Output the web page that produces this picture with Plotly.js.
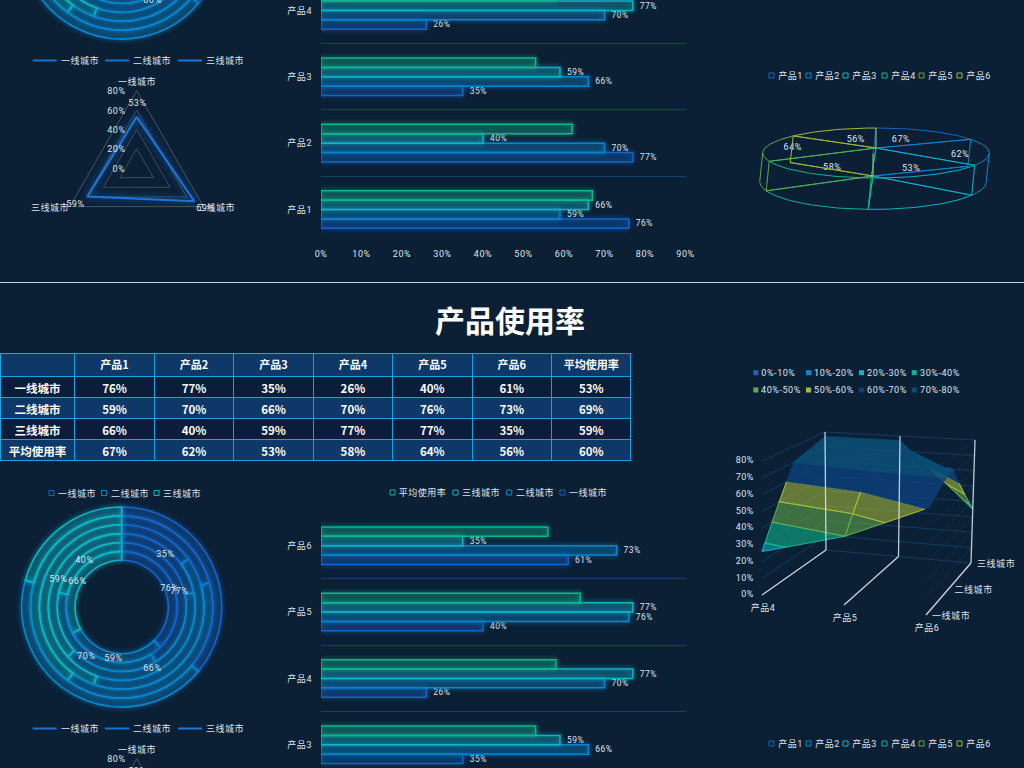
<!DOCTYPE html>
<html><head><meta charset="utf-8">
<script src="https://cdn.plot.ly/plotly-3.0.1.min.js"></script>
<style>
html,body{margin:0;padding:0;background:#0b1f35;overflow:hidden;width:1024px;height:768px}
#stage{position:fixed;left:0;top:0;width:1024px;height:768px;overflow:hidden;background:#0b1f35}
.sec{position:absolute;left:0;width:1024px;height:669px}
.sec text{letter-spacing:.55px}
.sec .table text,.sec .gtitle{letter-spacing:0}
</style></head><body>
<div id="stage"><div id="secA" class="sec" style="top:-386px"></div><div id="secB" class="sec" style="top:282px"></div></div>
<script>
const titleText = '产品使用率';
const products = ['产品1','产品2','产品3','产品4','产品5','产品6'];
const cities = ['一线城市','二线城市','三线城市'];
const avgName = '平均使用率';
const tier1 = [76,77,35,26,40,61];
const tier2 = [59,70,66,70,76,73];
const tier3 = [66,40,59,77,77,35];
const avgByProduct = [67,62,53,58,64,56];
const avgByCity = [53,69,59];
const avgAll = 60;
const radarTicks = [0,20,40,60,80];
const bandNames = ['0%-10%','10%-20%','20%-30%','30%-40%','40%-50%','50%-60%','60%-70%','70%-80%'];
const surfaceProducts = ['产品4','产品5','产品6'];
const surfaceZ = [[26,40,61],[70,76,73],[77,77,35]];

const cityColors = ['#1565c4','#0b86cc','#10b4c4'];
const avgColor = '#12b58c';
const sliceColors = ['#1565c4','#0b86cc','#10b4c4','#12b58c','#62a84a','#a5b838'];
const bandColors = ['#1565c4','#0b86cc','#10b4c4','#12b58c','#62a84a','#a5b838','#0d3f78','#0c4f78'];
const FONT = 'Roboto,"Noto Sans CJK SC",sans-serif';
const TXT = '#dfe6ee';
const W = 1024, H = 669;
const px = x => x / W, py = y => 1 - y / H;
function rgba(hex,a){const n=parseInt(hex.slice(1),16);return `rgba(${n>>16},${(n>>8)&255},${n&255},${a})`;}
const note=(x,y,text,xanchor='center')=>({xref:'paper',yref:'paper',x:px(x),y:py(y),xanchor,yanchor:'middle',showarrow:false,text,font:{size:9,color:TXT,family:FONT}});

function legendRow(items, y, kind, ann, shp){
  items.forEach(it=>{
    if(kind==='line'){
      shp.push({type:'line',xref:'paper',yref:'paper',x0:px(it.x),x1:px(it.x+24),y0:py(y),y1:py(y),line:{color:it.color,width:2}});
    }else{
      shp.push({type:'rect',xref:'paper',yref:'paper',x0:px(it.x),x1:px(it.x+5),y0:py(y-2.5),y1:py(y+2.5),
        line:{color:it.color,width:kind==='fill'?0:1},fillcolor:kind==='fill'?it.color:'rgba(0,0,0,0)'});
    }
    ann.push(note(it.x+(kind==='line'?27:8),y,it.name,'left'));
  });
}

// trilinear projection of the 3-D surface box (u,v,w in 0..1) onto the flat axis pair
const box={p000:[762,313],p100:[926,333],p010:[826,268],p110:[971,281],p001:[762,179],p101:[930,192],p011:[825,150],p111:[975,158]};
function proj(u,v,w){
  const m=(a,b,t)=>[a[0]+(b[0]-a[0])*t,a[1]+(b[1]-a[1])*t];
  const f0=m(box.p000,box.p100,u), b0=m(box.p010,box.p110,u), f1=m(box.p001,box.p101,u), b1=m(box.p011,box.p111,u);
  return m(m(f0,b0,v),m(f1,b1,v),w);
}
function clip(poly,level,keepAbove){
  const out=[];
  poly.forEach((p,i)=>{
    const q=poly[(i+1)%poly.length];
    const pin=keepAbove?p.z>=level:p.z<=level, qin=keepAbove?q.z>=level:q.z<=level;
    if(pin) out.push(p);
    if(pin!==qin){const t=(level-p.z)/(q.z-p.z);out.push({u:p.u+(q.u-p.u)*t,v:p.v+(q.v-p.v)*t,z:level});}
  });
  return out;
}
function surfaceTraces(){
  const T=[], ax={xaxis:'x4',yaxis:'y4',showlegend:false,hoverinfo:'skip',cliponaxis:false};
  const seg=(a,b,color,width)=>{const A=proj(...a),B=proj(...b);T.push({...ax,type:'scatter',mode:'lines',x:[A[0],B[0]],y:[A[1],B[1]],line:{color,width}});};
  for(let z=0;z<=80;z+=10){
    seg([0,1,z/80],[1,1,z/80],'#143c64',1);
    seg([0,0,z/80],[0,1,z/80],'#143c64',1);
    seg([1,0,z/80],[1,1,z/80],'#102f50',1);
  }
  for(let j=1;j>=0;j--) for(let i=0;i<2;i++){
    const cell=[{u:i/2,v:j/2,z:surfaceZ[j][i]},{u:(i+1)/2,v:j/2,z:surfaceZ[j][i+1]},{u:(i+1)/2,v:(j+1)/2,z:surfaceZ[j+1][i+1]},{u:i/2,v:(j+1)/2,z:surfaceZ[j+1][i]}];
    bandColors.forEach((c,k)=>{
      let poly=clip(cell,k*10,true); if(poly.length) poly=clip(poly,(k+1)*10,false);
      if(poly.length<3) return;
      const pts=poly.map(p=>proj(p.u,p.v,p.z/80)); pts.push(pts[0]);
      T.push({...ax,type:'scatter',mode:'lines',x:pts.map(p=>p[0]),y:pts.map(p=>p[1]),fill:'toself',
        fillcolor:rgba(c,k>=6?0.86:0.58),line:{color:k>=6?rgba(c,0.9):c,width:k>=6?0.6:1.1}});
    });
  }
  [0,1,2].forEach(i=>{
    seg([i/2,0,0],[i/2,1,0],'rgba(225,232,240,0.9)',1.3);
    seg([i/2,1,0],[i/2,1,1],'rgba(225,232,240,0.85)',1.3);
  });
  const label=(xs,ys,text,pos)=>T.push({...ax,type:'scatter',mode:'text',x:xs,y:ys,text,textposition:pos,textfont:{size:9,color:TXT,family:FONT}});
  const zs=[0,10,20,30,40,50,60,70,80];
  const zp=zs.map(z=>proj(0,0,z/80));
  label(zp.map(p=>p[0]-8),zp.map(p=>p[1]),zs.map(z=>z+'%'),'middle left');
  const xp=surfaceProducts.map((p,i)=>proj(i/2,0,0));
  label(xp.map(p=>p[0]+1),xp.map(p=>p[1]+14),surfaceProducts,'middle center');
  const yp=cities.map((c,j)=>proj(1,j/2,0));
  label(yp.map(p=>p[0]+6),yp.map((p,j)=>p[1]+2),cities,'middle right');
  return T;
}

function section(full){
  const traces=[], ann=[], shp=[];

  // ---- grouped outlined bars
  const barSeries=[[cities[0],tier1,cityColors[0],true],[cities[1],tier2,cityColors[1],true],[cities[2],tier3,cityColors[2],true],[avgName,avgByProduct,avgColor,false]];
  barSeries.forEach(([name,vals,col,lab])=>{
    traces.push({type:'bar',orientation:'h',name,y:products,x:vals,xaxis:'x',yaxis:'y',showlegend:false,hoverinfo:'skip',
      marker:{color:rgba(col,0.16),line:{color:col,width:1.5}},
      text:lab?vals.map(v=>'\u00a0\u00a0'+v+'%'):undefined,textposition:lab?'outside':'none',cliponaxis:false,
      textfont:{size:9,color:TXT,family:FONT}});
  });

  // ---- concentric doughnut: one ring per product, one slice per city
  const cx=121.7, cy=325, R=100, r0=46.7, rw=(R-r0)/6;
  products.forEach((p,k)=>{
    const vals=[tier1[k],tier2[k],tier3[k]];
    const outer=r0+rw*(k+1), inner=r0+rw*k;
    traces.push({type:'pie',name:p,labels:cities,values:vals,sort:false,direction:'clockwise',rotation:0,
      hole:inner/outer,textinfo:'none',hoverinfo:'skip',showlegend:false,
      domain:{x:[px(cx-outer),px(cx+outer)],y:[py(cy+outer),py(cy-outer)]},
      marker:{colors:cityColors.map(c=>rgba(c,0.16)),line:{color:cityColors,width:1.6}}});
    if(k<3){
      const tot=vals[0]+vals[1]+vals[2]; let acc=0;
      vals.forEach(v=>{
        const t=(acc+v/2)/tot*2*Math.PI; acc+=v;
        const rr=(inner+outer)/2;
        ann.push(note(cx+rr*Math.sin(t),cy-rr*Math.cos(t),v+'%'));
      });
    }
  });

  // ---- radar of the city averages; one edge per city
  cities.forEach((c,i)=>{
    const j=(i+1)%3;
    traces.push({type:'scatterpolar',subplot:'polar',mode:'lines',name:c,theta:[c,cities[j]],r:[avgByCity[i],avgByCity[j]],
      line:{color:'#1a78dc',width:2},showlegend:false,hoverinfo:'skip',cliponaxis:false});
  });
  [[136.7,467,cities[0]],[216,593,cities[1]],[50,593,cities[2]],[137,489,avgByCity[0]+'%'],[205,594,avgByCity[1]+'%'],[75,590,avgByCity[2]+'%']]
    .forEach(([x,y,text])=>ann.push(note(x,y,text)));
  radarTicks.forEach(v=>ann.push(note(126.5,554.5-v/80*77.2,v+'%','right')));

  // ---- wireframe 3-D pie: perspective disc drawn on a flat axis pair
  const hubT=[876,534], hubB=[873,562], Rx=111, aT=24, aB=26.7, persp=0.2;
  const rim=(h,a,t)=>{const d=1+persp*Math.cos(t);return [h[0]+Rx*Math.sin(t)/d,h[1]-a*Math.cos(t)/d];};
  const tot=avgByProduct.reduce((a,b)=>a+b,0); let acc=0;
  const sil=[Math.acos(-persp),2*Math.PI-Math.acos(-persp)];
  avgByProduct.forEach((v,i)=>{
    const a0=acc/tot*2*Math.PI, a1=(acc+v)/tot*2*Math.PI; acc+=v;
    const xs=[],ys=[]; const push=p=>{xs.push(p[0]);ys.push(p[1]);};
    const gap=()=>{xs.push(null);ys.push(null);};
    push(hubT); for(let s=0;s<=30;s++) push(rim(hubT,aT,a0+(a1-a0)*s/30)); push(hubT); gap();
    push(hubB); push(rim(hubB,aB,a0)); gap();
    push(hubB); push(rim(hubB,aB,a1)); gap();
    for(let s=0;s<=30;s++){const t=a0+(a1-a0)*s/30; if(Math.cos(t)<=-persp+0.001) push(rim(hubB,aB,t)); else gap();}
    gap();
    push(rim(hubT,aT,a0)); push(rim(hubB,aB,a0)); gap();
    sil.forEach(t=>{if(t>a0&&t<a1){push(rim(hubT,aT,t));push(rim(hubB,aB,t));gap();}});
    traces.push({type:'scatter',mode:'lines',x:xs,y:ys,xaxis:'x3',yaxis:'y3',name:products[i],showlegend:false,hoverinfo:'skip',connectgaps:false,
      line:{color:sliceColors[i],width:1},cliponaxis:false});
    const mid=(a0+a1)/2, c=Math.cos(mid), k=c>0?0.75-0.42*c:0.75;
    traces.push({type:'scatter',mode:'text',x:[hubT[0]+Rx*1.02*k*Math.sin(mid)],y:[hubT[1]-aT*k*c+(c<0?4:0)],text:[v+'%'],xaxis:'x3',yaxis:'y3',showlegend:false,hoverinfo:'skip',
      textfont:{size:9,color:TXT,family:FONT},cliponaxis:false});
  });

  // ---- legends
  legendRow(cities.map((n,i)=>({name:n,color:cityColors[i],x:[49,101.5,154][i]})),211,'box',ann,shp);
  legendRow([avgName,cities[2],cities[1],cities[0]].map((n,i)=>({name:n,color:[avgColor,cityColors[2],cityColors[1],cityColors[0]][i],x:[390,453,506.7,560][i]})),210.5,'box',ann,shp);
  legendRow(cities.map((n,i)=>({name:n,color:['#1a70d0','#1673d4','#1a78dc'][i],x:[32.7,105,178][i]})),446.5,'line',ann,shp);
  legendRow(products.map((n,i)=>({name:n,color:sliceColors[i],x:[769,806,843,882,919,957][i]})),461.5,'box',ann,shp);

  const layout={
    width:W,height:H,margin:{l:0,r:0,t:0,b:0,pad:0},paper_bgcolor:'rgba(0,0,0,0)',plot_bgcolor:'rgba(0,0,0,0)',
    font:{family:FONT,color:TXT,size:9},showlegend:false,barmode:'group',bargap:0.434,bargroupgap:0,
    xaxis:{domain:[px(321),px(685.5)],range:[0,90],dtick:10,ticksuffix:'%',showgrid:false,zeroline:false,showline:false,ticks:'',
      ticklabelstandoff:4,tickfont:{size:9,color:TXT},anchor:'y',fixedrange:true},
    yaxis:{domain:[py(628.7),py(230.5)],type:'category',categoryorder:'array',categoryarray:products,tickson:'boundaries',showgrid:true,
      gridcolor:'#17406c',gridwidth:1,zeroline:false,showline:false,ticks:'',ticklabelstandoff:8,tickfont:{size:9,color:TXT},anchor:'x',fixedrange:true},
    xaxis3:{domain:[px(740),px(1010)],range:[740,1010],visible:false,anchor:'y3',fixedrange:true},
    yaxis3:{domain:[py(610),py(490)],range:[610,490],visible:false,anchor:'x3',fixedrange:true},
    polar:{domain:{x:[px(136.7-77.2),px(136.7+77.2)],y:[py(554+77.2),py(554-77.2)]},bgcolor:'rgba(0,0,0,0)',gridshape:'linear',
      angularaxis:{type:'category',categoryorder:'array',categoryarray:cities,rotation:90,direction:'clockwise',showgrid:false,showticklabels:false,linecolor:'#4a5661',linewidth:1,ticks:''},
      radialaxis:{range:[0,80],dtick:20,angle:90,showticklabels:false,showline:false,ticks:'',gridcolor:'#3f4d5b',gridwidth:1}},
    annotations:ann,shapes:shp
  };

  if(full){
    layout.title={text:titleText,x:510/W,xanchor:'center',y:py(39),yanchor:'middle',font:{size:30,color:'#ffffff',family:'"Noto Sans CJK SC",sans-serif',weight:700}};
    shp.push({type:'line',xref:'paper',yref:'paper',x0:0,x1:1,y0:py(0.5),y1:py(0.5),line:{color:'#c8d2dc',width:1}});
    const fmt=a=>a.map(v=>v+'%');
    const hdr=['',...products,avgName];
    const cells=[[...cities,avgName]];
    products.forEach((p,i)=>cells.push(fmt([tier1[i],tier2[i],tier3[i],avgByProduct[i]])));
    cells.push(fmt([...avgByCity,avgAll]));
    const dark='#0b1d3a', mid2='#0d3868';
    traces.push({type:'table',domain:{x:[0,px(631)],y:[py(182),py(71)]},columnwidth:[75,79.6,79.6,79.6,79.6,79.6,79.6,79.6],
      header:{values:hdr,height:23,align:'center',fill:{color:mid2},line:{color:'#16a4de',width:1},font:{size:11,color:'#ffffff',family:'"Noto Sans CJK SC",sans-serif',weight:700}},
      cells:{values:cells,height:21,align:'center',fill:{color:[[dark,mid2,dark,mid2]]},line:{color:'#16a4de',width:1},font:{size:11.5,color:'#ffffff',family:'"Noto Sans CJK SC",sans-serif',weight:700}}});
    traces.push(...surfaceTraces());
    layout.xaxis4={domain:[px(700),1],range:[700,1024],visible:false,anchor:'y4',fixedrange:true};
    layout.yaxis4={domain:[py(400),py(120)],range:[400,120],visible:false,anchor:'x4',fixedrange:true};
    legendRow(bandNames.slice(0,4).map((n,i)=>({name:n,color:bandColors[i],x:[753.3,806,859,911.7][i]})),90.7,'fill',ann,shp);
    legendRow(bandNames.slice(4).map((n,i)=>({name:n,color:bandColors[i+4],x:[753.3,806,859,911.7][i]})),108,'fill',ann,shp);
  }
  return {traces,layout};
}

function glow(id){
  const root=document.getElementById(id);
  const add=(sel,blur)=>root.querySelectorAll(sel).forEach(el=>{
    const s=el.style.stroke||getComputedStyle(el).stroke;
    if(s&&s!=='none') el.style.filter=`drop-shadow(0 0 ${blur}px ${s})`;
  });
  add('.barlayer .point path',2.5);
  add('.pielayer .slice path',2.5);
  add('.polarlayer .scatterlayer path.js-line',4);
}
function draw(id,full){
  const s=section(full);
  return Plotly.newPlot(id,s.traces,s.layout,{displayModeBar:false,staticPlot:true}).then(()=>glow(id));
}
draw('secA',false);
draw('secB',true);
</script></body></html>
